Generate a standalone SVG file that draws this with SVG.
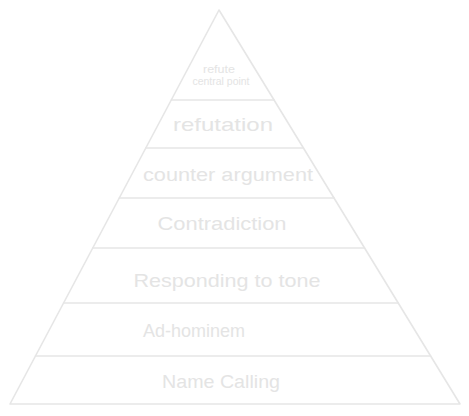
<svg xmlns="http://www.w3.org/2000/svg" width="469" height="416" viewBox="0 0 469 416">
<style>
.ln{fill:none;stroke:#e6e6e6;stroke-width:1.6;stroke-linecap:round;stroke-linejoin:round}
.t{font-family:"Liberation Sans",Arial,sans-serif;fill:#e4e4e4;text-anchor:middle}
.s{font-size:10px}
.m{font-size:19px}
</style>
<rect width="469" height="416" fill="#ffffff"/>
<g id="pyramid">
<polygon class="ln" points="219,10 10,404 460,404"/>
</g>
<g id="connectors">
<line class="ln" x1="171.3" y1="100" x2="274.1" y2="100"/>
<line class="ln" x1="145.8" y1="148" x2="303.4" y2="148"/>
<line class="ln" x1="119.3" y1="198" x2="334" y2="198"/>
<line class="ln" x1="92.8" y1="248" x2="364.6" y2="248"/>
<line class="ln" x1="63.6" y1="303" x2="398.2" y2="303"/>
<line class="ln" x1="35.5" y1="356" x2="430.6" y2="356"/>
</g>
<g id="tier-refute-central-point">
<text class="t s" x="219" y="73" textLength="32" lengthAdjust="spacingAndGlyphs">refute</text>
<text class="t s" x="221" y="85" textLength="57" lengthAdjust="spacingAndGlyphs">central point</text>
</g>
<g id="tier-refutation">
<text class="t m" x="223" y="131" textLength="100" lengthAdjust="spacingAndGlyphs">refutation</text>
</g>
<g id="tier-counter-argument">
<text class="t m" x="228" y="181" textLength="170" lengthAdjust="spacingAndGlyphs">counter argument</text>
</g>
<g id="tier-contradiction">
<text class="t m" x="222" y="230" textLength="129" lengthAdjust="spacingAndGlyphs">Contradiction</text>
</g>
<g id="tier-responding-to-tone">
<text class="t m" x="227" y="287" textLength="187" lengthAdjust="spacingAndGlyphs">Responding to tone</text>
</g>
<g id="tier-ad-hominem">
<text class="t m" x="194" y="337" textLength="102" lengthAdjust="spacingAndGlyphs">Ad-hominem</text>
</g>
<g id="tier-name-calling">
<text class="t m" x="221" y="388" textLength="118" lengthAdjust="spacingAndGlyphs">Name Calling</text>
</g>
</svg>
